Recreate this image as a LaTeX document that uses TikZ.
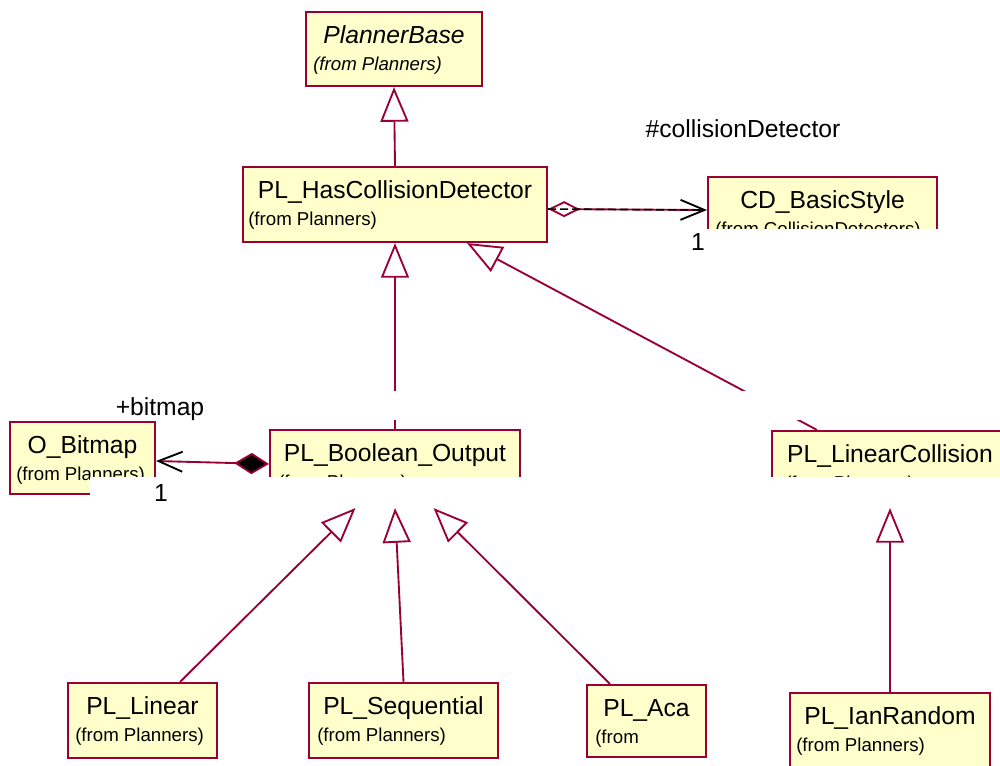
\documentclass[tikz,border=0pt]{standalone}
\usepackage{fontspec}
\setmainfont{Liberation Sans}
\usetikzlibrary{arrows.meta,fit}
\definecolor{umlred}{HTML}{990033}
\definecolor{umlfill}{HTML}{FFFFCC}

\tikzset{
  classbox/.style={rectangle, draw=umlred, fill=umlfill, line width=1.6pt, inner sep=0pt},
  titletext/.style={anchor=base, inner sep=0pt, font=\fontsize{18.5}{20}\selectfont},
  subtext/.style={anchor=base west, inner sep=0pt, font=\fontsize{14}{16}\selectfont},
  rolelabel/.style={anchor=base, inner sep=0pt, font=\fontsize{18.5}{20}\selectfont},
  gen/.style={draw=umlred, line width=1.4pt, line join=miter,
    -{Triangle[open,length=26pt,width=21pt]}},
  aggr/.style={draw=umlred, line width=1.4pt,
    {Diamond[open,length=24pt,width=12pt]}-{Straight Barb[color=black,length=18pt,width=15pt]}},
  comp/.style={draw=umlred, line width=1.4pt,
    {Diamond[fill=black,length=26pt,width=16pt]}-{Straight Barb[color=black,length=18pt,width=15pt]}},
  cutout/.style={fill=white},
}

% class box: name, x1, y1, x2, y2, title, subtitle x, subtitle
\newcommand\umlclass[8]{%
  \node[classbox, fit={(#2,#3) (#4,#5)}] (#1) {};
  \node[titletext] (#1-t) at ({(#2+#4)/2},{#3+31}) {#6};
  \node[subtext] (#1-s) at (#7,{#3+58}) {#8};
}

\begin{document}
\begin{tikzpicture}[x=0.75pt,y=-0.75pt]
\useasboundingbox (0,0) rectangle (1000,765);

% classes
\umlclass{pb}{306}{12}{482}{86}{\itshape PlannerBase}{313}{\itshape (from Planners)}
\umlclass{hcd}{243}{167}{547}{242}{PL\_HasCollisionDetector}{248}{(from Planners)}
\umlclass{cd}{708}{177}{937}{253}{CD\_BasicStyle}{715}{(from CollisionDetectors)}
\umlclass{bmp}{10}{422}{155}{494}{O\_Bitmap}{16}{(from Planners)}
\umlclass{bool}{270}{430}{520}{507}{PL\_Boolean\_Output}{278}{(from Planners)}
\umlclass{lin}{772}{431}{1008}{507}{PL\_LinearCollision}{785}{(from Planners)}
\umlclass{plin}{68}{683}{217}{758}{PL\_Linear}{75}{(from Planners)}
\umlclass{seq}{309}{683}{498}{758}{PL\_Sequential}{317}{(from Planners)}
\umlclass{aca}{587}{685}{706}{757}{PL\_Aca}{595}{(from}
\umlclass{ian}{790}{693}{990}{775}{PL\_IanRandom}{796}{(from Planners)}

% blank areas over the lower parts of some boxes
\fill[cutout] (90,477) rectangle (1010,510);
\fill[cutout] (706,229) rectangle (1010,275);

% generalizations
\draw[gen] (hcd.north) -- (pb.south);
\draw[gen] (bool.north) -- (hcd.south);
\draw[gen] ([xshift=34.5pt]lin.north west) -- ([xshift=54pt]hcd.south);
\draw[gen] ([xshift=28.1pt]plin.north) -- ([xshift=-29.6pt]bool.south);
\draw[gen] (seq.north) -- (bool.south);
\draw[gen] ([xshift=-27.4pt]aca.north) -- ([xshift=28.9pt]bool.south);
\draw[gen] (ian.north) -- (lin.south);

% associations
\draw[aggr] ([yshift=-3.4pt]hcd.east) -- ([yshift=3.75pt]cd.west);
\draw[black, line width=1.2pt, dash pattern=on 6pt off 3pt]
  ([yshift=-3.4pt]hcd.east) -- ([xshift=-3pt,yshift=3.75pt]cd.west);
\draw[comp] ([yshift=3.4pt]bool.west) -- ([yshift=-2.25pt]bmp.east);

% blank band across the upper connectors
\fill[cutout] (300,391) rectangle (1010,420);

% role names and multiplicities
\node[rolelabel] (rcd) at (743,137) {\#collisionDetector};
\node[rolelabel] (mcd) at (698,250) {1};
\node[rolelabel] (rbmp) at (160,415) {+bitmap};
\node[rolelabel] (mbmp) at (161,501) {1};
\end{tikzpicture}
\end{document}
